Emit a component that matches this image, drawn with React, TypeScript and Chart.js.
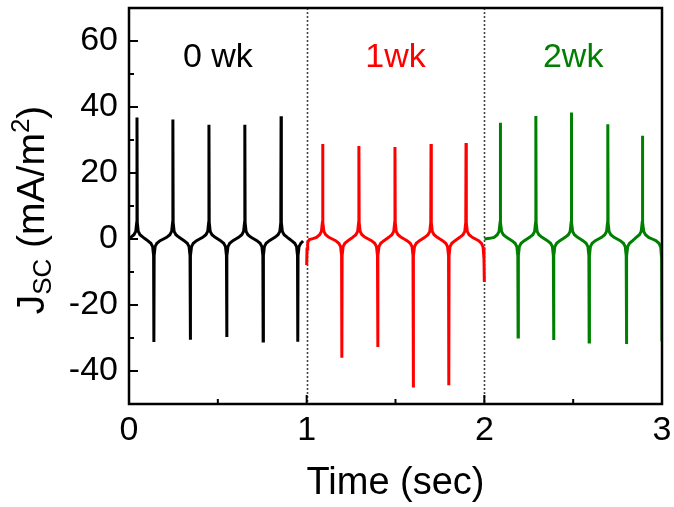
import React, { useEffect, useRef } from 'react';
import { Chart, registerables } from 'chart.js';

Chart.register(...registerables);

// [time (sec), Jsc (mA/m^2)]
const wk0Points: [number, number][] = [
  [0.000, 0.2],
  [0.010, 0.5], [0.028, 1.3], [0.038, 2.3], [0.0435, 5], [0.045, 36.8], [0.0465, 5], [0.052, 2.3], [0.062, 1.3], [0.080, 0.5],
  [0.0925, 0],
  [0.105, -0.5], [0.123, -1.3], [0.133, -2.3], [0.1385, -5], [0.140, -31.2], [0.1415, -5], [0.147, -2.3], [0.157, -1.3], [0.175, -0.5],
  [0.194, 0],
  [0.212, 0.5], [0.230, 1.3], [0.240, 2.3], [0.2455, 5], [0.247, 36.2], [0.2485, 5], [0.254, 2.3], [0.264, 1.3], [0.282, 0.5],
  [0.296, 0],
  [0.310, -0.5], [0.328, -1.3], [0.338, -2.3], [0.3435, -5], [0.345, -30.5], [0.3465, -5], [0.352, -2.3], [0.362, -1.3], [0.380, -0.5],
  [0.3975, 0],
  [0.415, 0.5], [0.433, 1.3], [0.443, 2.3], [0.4485, 5], [0.450, 34.6], [0.4515, 5], [0.457, 2.3], [0.467, 1.3], [0.485, 0.5],
  [0.500, 0],
  [0.515, -0.5], [0.533, -1.3], [0.543, -2.3], [0.5485, -5], [0.550, -29.7], [0.5515, -5], [0.557, -2.3], [0.567, -1.3], [0.585, -0.5],
  [0.601, 0],
  [0.617, 0.5], [0.635, 1.3], [0.645, 2.3], [0.6505, 5], [0.652, 34.6], [0.6535, 5], [0.659, 2.3], [0.669, 1.3], [0.687, 0.5],
  [0.7035, 0],
  [0.720, -0.5], [0.738, -1.3], [0.748, -2.3], [0.7535, -5], [0.755, -30.9], [0.7565, -5], [0.762, -2.3], [0.772, -1.3], [0.790, -0.5],
  [0.8055, 0],
  [0.821, 0.5], [0.839, 1.3], [0.849, 2.3], [0.8545, 5], [0.856, 37.2], [0.8575, 5], [0.863, 2.3], [0.873, 1.3], [0.891, 0.5],
  [0.903, 0],
  [0.915, -0.5], [0.933, -1.3], [0.943, -2.3], [0.9485, -5], [0.950, -31.1], [0.9515, -5], [0.957, -2.3], [0.967, -1.3], [0.980, -0.6],
];

const wk1Points: [number, number][] = [
  [1.000, -7.9], [1.002, -3], [1.006, -1], [1.015, -0.2], [1.035, 0.1],
  [1.055, 0.5], [1.073, 1.3], [1.083, 2.3], [1.0885, 5], [1.090, 28.8], [1.0915, 5], [1.097, 2.3], [1.107, 1.3], [1.125, 0.5],
  [1.144, 0],
  [1.163, -0.5], [1.181, -1.3], [1.191, -2.3], [1.1965, -5], [1.198, -36.0], [1.1995, -5], [1.205, -2.3], [1.215, -1.3], [1.233, -0.5],
  [1.246, 0],
  [1.259, 0.5], [1.277, 1.3], [1.287, 2.3], [1.2925, 5], [1.294, 28.2], [1.2955, 5], [1.301, 2.3], [1.311, 1.3], [1.329, 0.5],
  [1.347, 0],
  [1.365, -0.5], [1.383, -1.3], [1.393, -2.3], [1.3985, -5], [1.400, -32.7], [1.4015, -5], [1.407, -2.3], [1.417, -1.3], [1.435, -0.5],
  [1.4485, 0],
  [1.462, 0.5], [1.480, 1.3], [1.490, 2.3], [1.4955, 5], [1.497, 27.9], [1.4985, 5], [1.504, 2.3], [1.514, 1.3], [1.532, 0.5],
  [1.5485, 0],
  [1.565, -0.5], [1.583, -1.3], [1.593, -2.3], [1.5985, -5], [1.600, -45.0], [1.6015, -5], [1.607, -2.3], [1.617, -1.3], [1.635, -0.5],
  [1.650, 0],
  [1.665, 0.5], [1.683, 1.3], [1.693, 2.3], [1.6985, 5], [1.700, 28.8], [1.7015, 5], [1.707, 2.3], [1.717, 1.3], [1.735, 0.5],
  [1.750, 0],
  [1.765, -0.5], [1.783, -1.3], [1.793, -2.3], [1.7985, -5], [1.800, -44.3], [1.8015, -5], [1.807, -2.3], [1.817, -1.3], [1.835, -0.5],
  [1.8485, 0],
  [1.862, 0.5], [1.880, 1.3], [1.890, 2.3], [1.8955, 5], [1.897, 29.1], [1.8985, 5], [1.904, 2.3], [1.914, 1.3], [1.932, 0.5],
  [1.950, 0],
  [1.968, -0.5], [1.984, -1.3], [1.993, -2.5], [1.998, -6], [2.000, -13],
];

const wk2Points: [number, number][] = [
  [2.000, 0], [2.030, 0.2],
  [2.055, 0.5], [2.073, 1.3], [2.083, 2.3], [2.0885, 5], [2.090, 35.2], [2.0915, 5], [2.097, 2.3], [2.107, 1.3], [2.125, 0.5],
  [2.140, 0],
  [2.155, -0.5], [2.173, -1.3], [2.183, -2.3], [2.1885, -5], [2.190, -29.7], [2.1915, -5], [2.197, -2.3], [2.207, -1.3], [2.225, -0.5],
  [2.240, 0],
  [2.255, 0.5], [2.273, 1.3], [2.283, 2.3], [2.2885, 5], [2.290, 37.3], [2.2915, 5], [2.297, 2.3], [2.307, 1.3], [2.325, 0.5],
  [2.340, 0],
  [2.355, -0.5], [2.373, -1.3], [2.383, -2.3], [2.3885, -5], [2.390, -30.6], [2.3915, -5], [2.397, -2.3], [2.407, -1.3], [2.425, -0.5],
  [2.440, 0],
  [2.455, 0.5], [2.473, 1.3], [2.483, 2.3], [2.4885, 5], [2.490, 38.3], [2.4915, 5], [2.497, 2.3], [2.507, 1.3], [2.525, 0.5],
  [2.540, 0],
  [2.555, -0.5], [2.573, -1.3], [2.583, -2.3], [2.5885, -5], [2.590, -31.2], [2.5915, -5], [2.597, -2.3], [2.607, -1.3], [2.625, -0.5],
  [2.6425, 0],
  [2.660, 0.5], [2.678, 1.3], [2.688, 2.3], [2.6935, 5], [2.695, 34.8], [2.6965, 5], [2.702, 2.3], [2.712, 1.3], [2.730, 0.5],
  [2.7475, 0],
  [2.765, -0.5], [2.783, -1.3], [2.793, -2.3], [2.7985, -5], [2.800, -31.8], [2.8015, -5], [2.807, -2.3], [2.817, -1.3], [2.835, -0.5],
  [2.845, 0],
  [2.855, 0.5], [2.873, 1.3], [2.883, 2.3], [2.8885, 5], [2.890, 31.3], [2.8915, 5], [2.897, 2.3], [2.907, 1.3], [2.925, 0.5],
  [2.945, 0],
  [2.965, -0.5], [2.983, -1.3], [2.993, -2.5], [2.998, -6], [3.000, -31.0],
];

const segmentLabels = ['0 wk', '1wk', '2wk'];
const segmentColors = ['#000000', '#ff0000', '#008000'];
const segmentLabelTimes = [0.5, 1.5, 2.5];
const segmentLabelLevel = 55;
const dividerTimes = [1, 2];

const xMin = 0;
const xMax = 3;
const yMin = -50;
const yMax = 70;
const xTickValues = [0, 1, 2, 3];
const xMinorValues = [0.5, 1.5, 2.5];
const yTickValues = [-40, -20, 0, 20, 40, 60];
const yMinorValues = [-30, -10, 10, 30, 50];

const xTitle = 'Time (sec)';
const FONT = "'Liberation Sans', Arial, sans-serif";

const toXY = (pts: [number, number][]) => pts.map(([x, y]) => ({ x, y }));

const decorPlugin = {
  id: 'decor',
  beforeDatasetsDraw(chart: any) {
    const { ctx, chartArea } = chart;
    const xs = chart.scales.x;
    ctx.save();
    ctx.strokeStyle = '#444';
    ctx.lineWidth = 1.6;
    ctx.setLineDash([2, 2]);
    dividerTimes.forEach((t) => {
      const px = Math.round(xs.getPixelForValue(t)) + 0.5;
      ctx.beginPath();
      ctx.moveTo(px, chartArea.top);
      ctx.lineTo(px, chartArea.bottom);
      ctx.stroke();
    });
    ctx.restore();
  },
  afterDatasetsDraw(chart: any) {
    const { ctx, chartArea } = chart;
    const xs = chart.scales.x;
    const ys = chart.scales.y;
    const { left, right, top, bottom } = chartArea;
    ctx.save();
    ctx.strokeStyle = '#000';
    ctx.lineWidth = 2.5;
    ctx.setLineDash([]);
    ctx.strokeRect(left, top, right - left, bottom - top);
    ctx.lineWidth = 2;
    const major = 9;
    const minor = 5;
    yTickValues.forEach((v) => {
      const py = ys.getPixelForValue(v);
      ctx.beginPath(); ctx.moveTo(left, py); ctx.lineTo(left + major, py); ctx.stroke();
    });
    yMinorValues.forEach((v) => {
      const py = ys.getPixelForValue(v);
      ctx.beginPath(); ctx.moveTo(left, py); ctx.lineTo(left + minor, py); ctx.stroke();
    });
    xTickValues.forEach((v) => {
      const px = xs.getPixelForValue(v);
      ctx.beginPath(); ctx.moveTo(px, bottom); ctx.lineTo(px, bottom - major); ctx.stroke();
    });
    xMinorValues.forEach((v) => {
      const px = xs.getPixelForValue(v);
      ctx.beginPath(); ctx.moveTo(px, bottom); ctx.lineTo(px, bottom - minor); ctx.stroke();
    });
    ctx.font = `34px ${FONT}`;
    ctx.textAlign = 'center';
    ctx.textBaseline = 'middle';
    segmentLabels.forEach((lab, i) => {
      ctx.fillStyle = segmentColors[i];
      ctx.fillText(lab, xs.getPixelForValue(segmentLabelTimes[i]), ys.getPixelForValue(segmentLabelLevel));
    });
    const big = `39px ${FONT}`;
    const small = `26px ${FONT}`;
    const parts = [
      { t: 'J', f: big, dy: 0 },
      { t: 'SC', f: small, dy: 7 },
      { t: ' (mA/m', f: big, dy: 0 },
      { t: '2', f: small, dy: -15 },
      { t: ')', f: big, dy: 0 },
    ];
    let total = 0;
    const widths = parts.map((p) => {
      ctx.font = p.f;
      const w = ctx.measureText(p.t).width;
      total += w;
      return w;
    });
    ctx.translate(44, 210);
    ctx.rotate(-Math.PI / 2);
    ctx.fillStyle = '#000';
    ctx.textAlign = 'left';
    ctx.textBaseline = 'alphabetic';
    let x = -total / 2;
    parts.forEach((p, i) => {
      ctx.font = p.f;
      ctx.fillText(p.t, x, p.dy);
      x += widths[i];
    });
    ctx.restore();
  },
};

export default function App() {
  const ref = useRef<HTMLCanvasElement | null>(null);
  useEffect(() => {
    document.body.style.margin = '0';
    const canvas = ref.current;
    if (!canvas) return;
    const chart = new Chart(canvas, {
      type: 'line',
      data: {
        datasets: [wk0Points, wk1Points, wk2Points].map((pts, i) => ({
          label: segmentLabels[i],
          data: toXY(pts),
          borderColor: segmentColors[i],
          backgroundColor: segmentColors[i],
          borderWidth: 3,
          pointRadius: 0,
          tension: 0,
          fill: false,
        })),
      },
      options: {
        responsive: false,
        animation: false,
        devicePixelRatio: 1,
        parsing: false as any,
        layout: { padding: { top: 8, right: 12, left: 0, bottom: 0 } },
        plugins: { legend: { display: false }, tooltip: { enabled: false }, title: { display: false } },
        scales: {
          x: {
            type: 'linear',
            min: xMin,
            max: xMax,
            afterBuildTicks: (s: any) => { s.ticks = xTickValues.map((v) => ({ value: v })); },
            afterFit: (s: any) => { s.height = 103; s.paddingLeft = 0; s.paddingRight = 0; },
            grid: { display: false, drawTicks: false },
            border: { display: false },
            ticks: { color: '#000', font: { family: FONT, size: 34 }, padding: 6, maxRotation: 0, autoSkip: false },
            title: { display: true, text: xTitle, color: '#000', font: { family: FONT, size: 38 }, padding: { top: 0, bottom: 1 } },
          },
          y: {
            type: 'linear',
            min: yMin,
            max: yMax,
            afterBuildTicks: (s: any) => { s.ticks = yTickValues.map((v) => ({ value: v })); },
            afterFit: (s: any) => { s.width = 129; s.paddingTop = 0; s.paddingBottom = 0; },
            grid: { display: false, drawTicks: false },
            border: { display: false },
            ticks: { color: '#000', font: { family: FONT, size: 34 }, padding: 11, autoSkip: false },
          },
        },
      },
      plugins: [decorPlugin],
    });
    return () => chart.destroy();
  }, []);
  return <canvas ref={ref} width={674} height={507} style={{ display: 'block', width: 674, height: 507 }} />;
}
